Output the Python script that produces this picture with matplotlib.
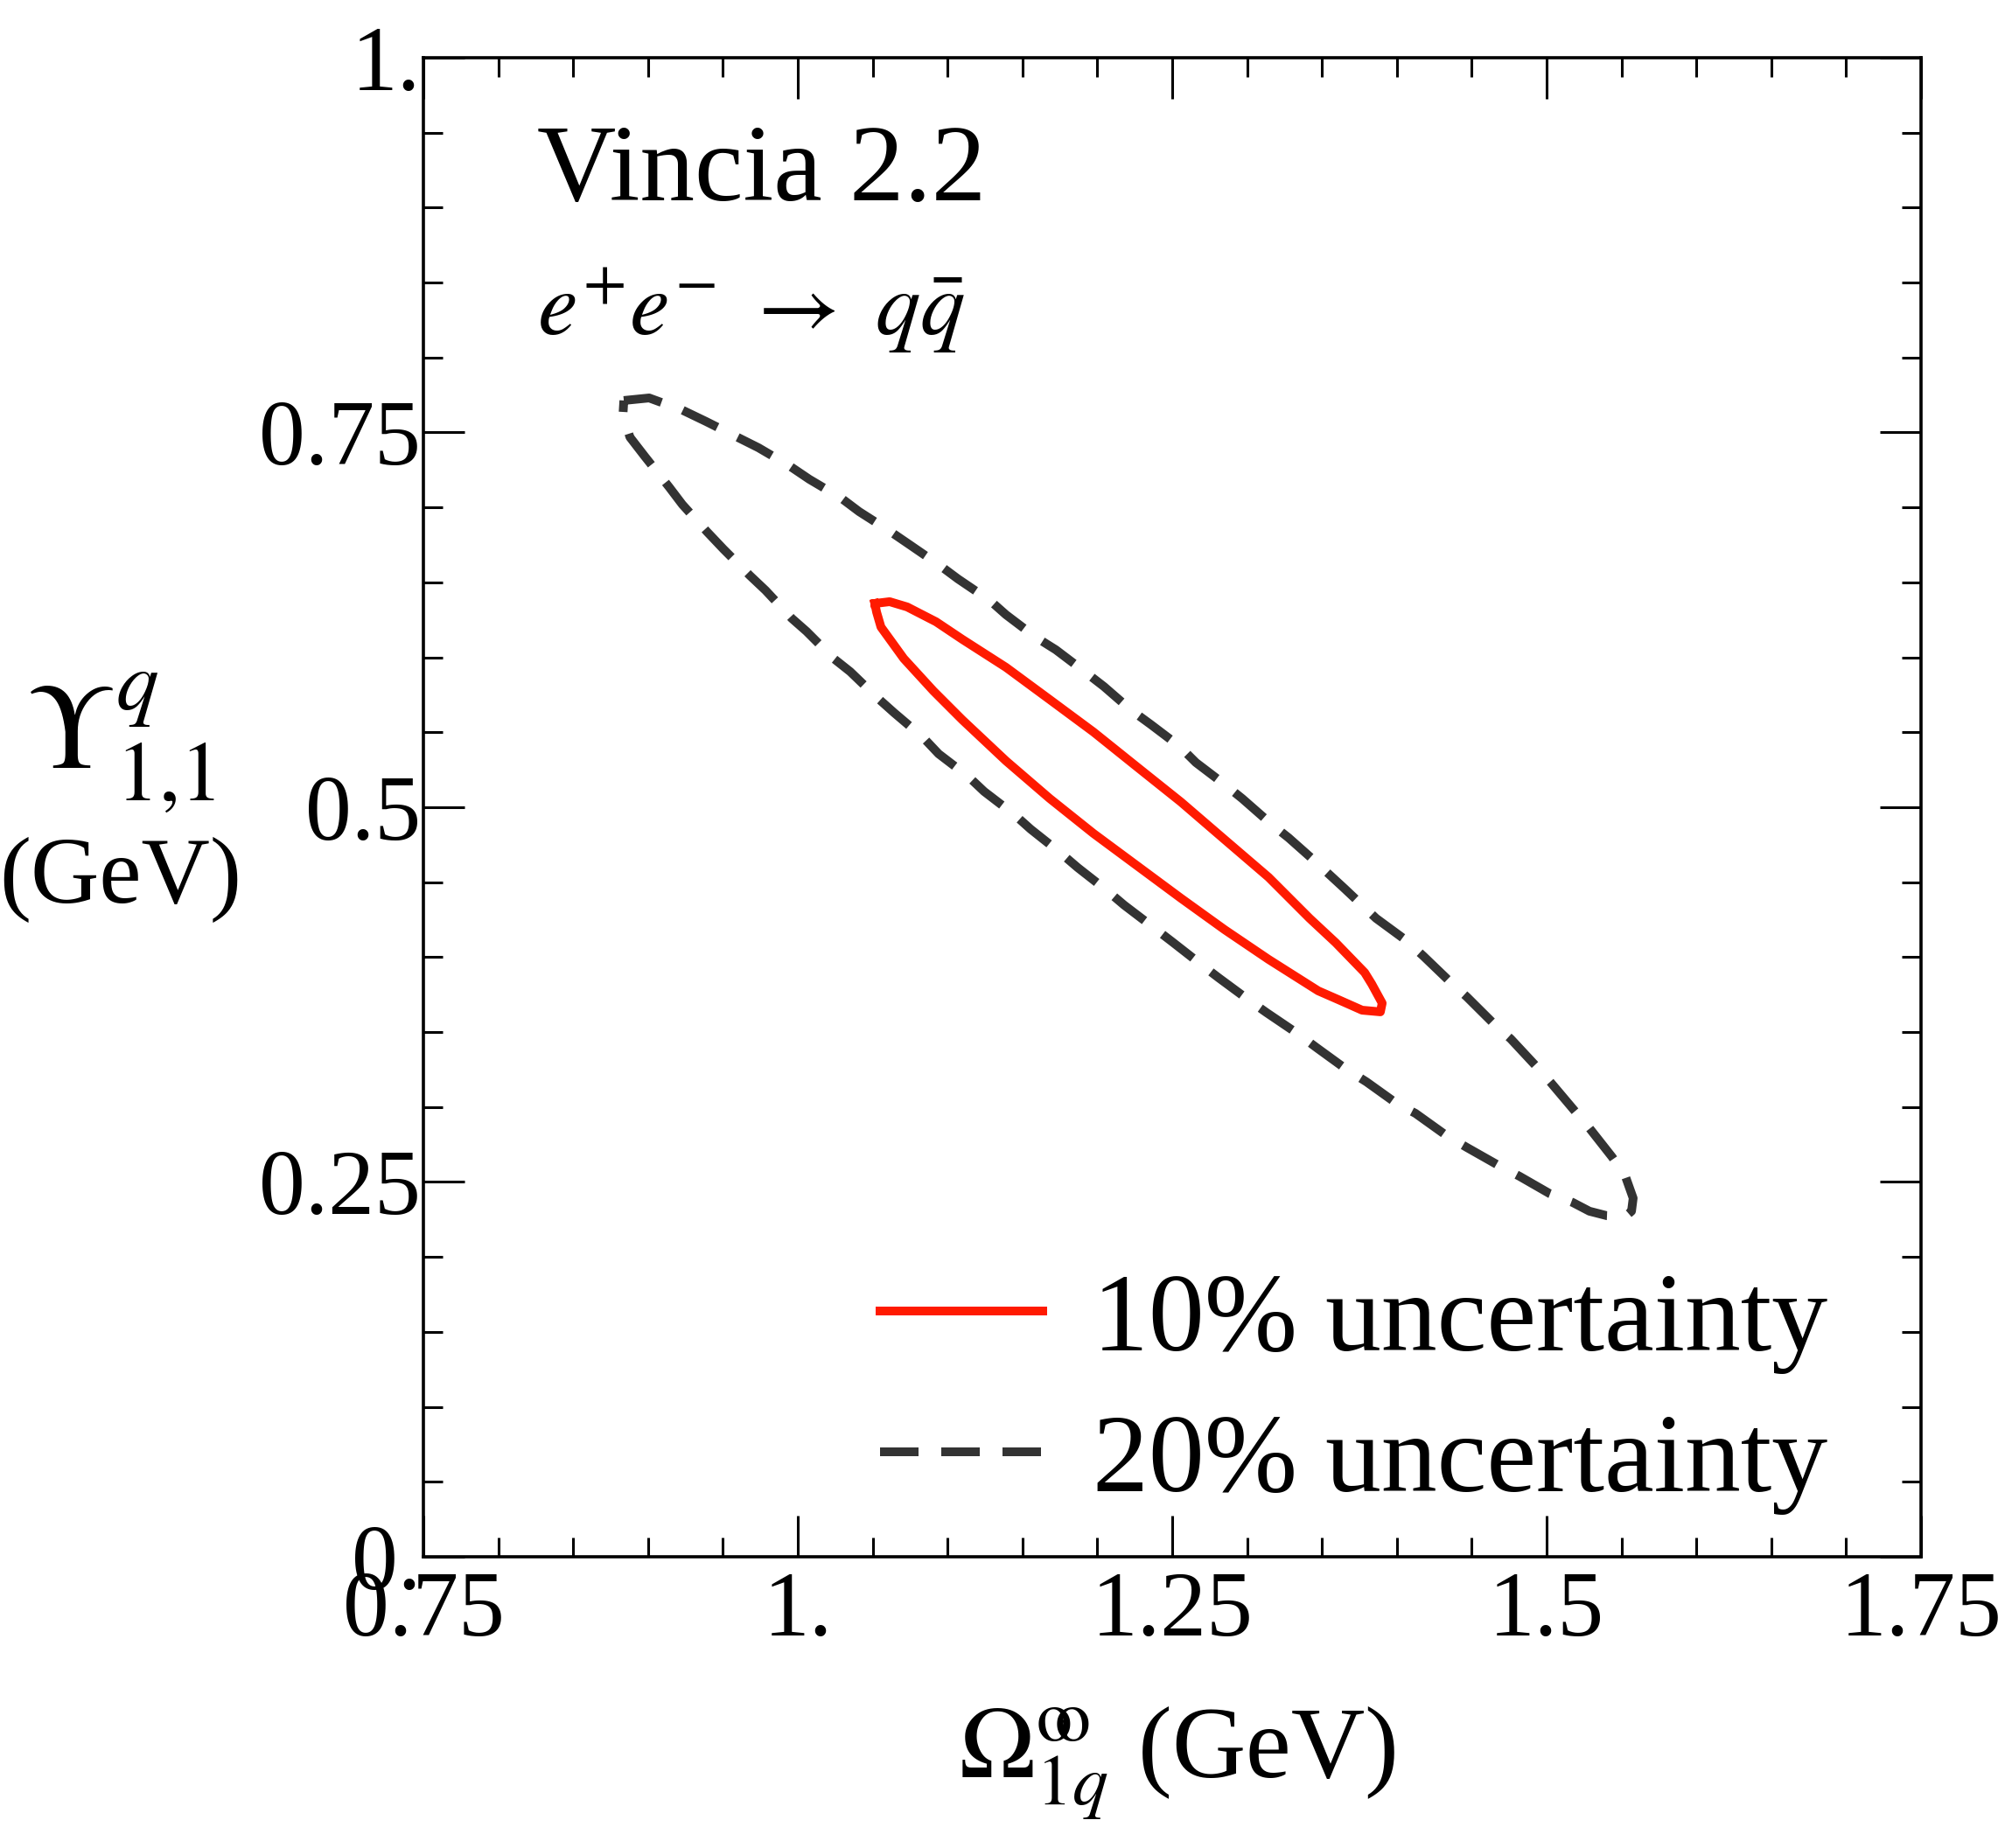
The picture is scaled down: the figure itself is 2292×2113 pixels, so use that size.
import numpy as np
import matplotlib
matplotlib.use('Agg')
import matplotlib.pyplot as plt
from matplotlib.ticker import MultipleLocator, FixedLocator, FixedFormatter

plt.rcParams['font.family'] = ['Liberation Serif', 'DejaVu Serif']
plt.rcParams['mathtext.fontset'] = 'stix'

# 20% uncertainty contour (dashed), traced clockwise from the upper-left tip
x20 = [0.8838, 0.9007, 0.9229, 0.9387, 0.9597, 0.9737, 0.9947, 1.0076, 1.0292, 1.0409,
       1.0619, 1.0748, 1.0952, 1.1069, 1.1285, 1.1390, 1.1583, 1.1723, 1.1916, 1.2044,
       1.2225, 1.2354, 1.2547, 1.2658, 1.2850, 1.2967, 1.3160, 1.3277, 1.3435, 1.3651,
       1.3861, 1.4060, 1.4176, 1.4352, 1.4468, 1.4644, 1.4761, 1.4924, 1.5029, 1.5187,
       1.5286, 1.5438, 1.5526, 1.5578, 1.5567, 1.5526, 1.5403, 1.5286, 1.5175, 1.5023,
       1.4819, 1.4673, 1.4468, 1.4328, 1.4124, 1.4001, 1.3797, 1.3657, 1.3464, 1.3347,
       1.3131, 1.3008, 1.2810, 1.2687, 1.2500, 1.2371, 1.2179, 1.2062, 1.1869, 1.1752,
       1.1554, 1.1449, 1.1244, 1.1139, 1.0940, 1.0835, 1.0643, 1.0532, 1.0350, 1.0239,
       1.0058, 0.9959, 0.9784, 0.9679, 0.9504, 0.9393, 0.9229, 0.9141, 0.8978, 0.8879,
       0.8832, 0.8838]
y20 = [0.7713, 0.7730, 0.7649, 0.7573, 0.7468, 0.7398, 0.7275, 0.7188, 0.7060, 0.6972,
       0.6838, 0.6750, 0.6610, 0.6523, 0.6377, 0.6284, 0.6138, 0.6050, 0.5904, 0.5805,
       0.5648, 0.5554, 0.5408, 0.5298, 0.5152, 0.5058, 0.4889, 0.4796, 0.4656, 0.4457,
       0.4259, 0.4113, 0.4008, 0.3839, 0.3734, 0.3559, 0.3454, 0.3279, 0.3162, 0.2975,
       0.2859, 0.2666, 0.2538, 0.2392, 0.2305, 0.2270, 0.2275, 0.2305, 0.2363, 0.2421,
       0.2538, 0.2614, 0.2730, 0.2812, 0.2958, 0.3022, 0.3168, 0.3256, 0.3396, 0.3483,
       0.3629, 0.3716, 0.3862, 0.3956, 0.4102, 0.4201, 0.4347, 0.4446, 0.4597, 0.4697,
       0.4854, 0.4948, 0.5105, 0.5204, 0.5356, 0.5467, 0.5630, 0.5729, 0.5904, 0.5992,
       0.6173, 0.6260, 0.6447, 0.6546, 0.6721, 0.6838, 0.7019, 0.7135, 0.7340, 0.7468,
       0.7614, 0.7713]

# 10% uncertainty contour (solid red)
x10 = [1.0514, 1.0613, 1.0730, 1.0923, 1.1098, 1.1390, 1.1682, 1.1974, 1.2266, 1.2558,
       1.2850, 1.3143, 1.3417, 1.3592, 1.3785, 1.3832, 1.3902, 1.3890, 1.3768, 1.3610,
       1.3475, 1.3143, 1.2850, 1.2558, 1.2266, 1.1974, 1.1682, 1.1390, 1.1098, 1.0905,
       1.0707, 1.0555, 1.0526, 1.0514]
y10 = [0.6359, 0.6371, 0.6336, 0.6237, 0.6120, 0.5933, 0.5718, 0.5502, 0.5268, 0.5035,
       0.4784, 0.4533, 0.4259, 0.4096, 0.3897, 0.3821, 0.3693, 0.3635, 0.3646, 0.3716,
       0.3775, 0.3985, 0.4183, 0.4393, 0.4609, 0.4825, 0.5058, 0.5309, 0.5583, 0.5776,
       0.5992, 0.6202, 0.6301, 0.6359]

xticks = [0.75, 1.0, 1.25, 1.5, 1.75]
xticklabels = ['0.75', '1.', '1.25', '1.5', '1.75']
yticks = [0.0, 0.25, 0.5, 0.75, 1.0]
yticklabels = ['0.', '0.25', '0.5', '0.75', '1.']

fig = plt.figure(figsize=(11.46, 10.565), dpi=200)
ax = fig.add_axes([0.2112, 0.1576, 0.7469, 0.8112])

ax.plot(x10, y10, color='#ff1a00', lw=3.6, label='10% uncertainty')
ax.plot(x20, y20, color='#333333', lw=3.6, linestyle=(0, (4.4, 2.6)), label='20% uncertainty')

ax.set_xlim(0.75, 1.75)
ax.set_ylim(0.0, 1.0)
ax.xaxis.set_major_locator(FixedLocator(xticks))
ax.xaxis.set_major_formatter(FixedFormatter(xticklabels))
ax.yaxis.set_major_locator(FixedLocator(yticks))
ax.yaxis.set_major_formatter(FixedFormatter(yticklabels))
ax.xaxis.set_minor_locator(MultipleLocator(0.05))
ax.yaxis.set_minor_locator(MultipleLocator(0.05))
ax.tick_params(which='both', direction='in', top=True, right=True, width=1.1, color='black')
ax.tick_params(which='major', length=17, labelsize=38)
ax.tick_params(which='minor', length=8)
ax.tick_params(axis='x', pad=6)
ax.tick_params(axis='y', pad=1)
for s in ax.spines.values():
    s.set_linewidth(1.3)

ax.text(0.076, 0.905, 'Vincia 2.2', transform=ax.transAxes, fontsize=45)
ax.text(0.076, 0.815, r'$e^{+}e^{-}\ \rightarrow\ q\bar{q}$', transform=ax.transAxes, fontsize=37)

fig.text(0.060, 0.598, r'$\Upsilon_{1{,}1}^{q}$', fontsize=50, ha='center', va='center')
fig.text(0.060, 0.524, '(GeV)', fontsize=39, ha='center', va='center')
fig.text(0.587, 0.046, r'$\Omega_{1q}^{\mathrm{o}\!\!\mathrm{o}}$ (GeV)', fontsize=42, ha='center', va='center')

ax.legend(loc='lower right', bbox_to_anchor=(0.99, -0.024), frameon=False, fontsize=46,
          handlelength=1.45, handletextpad=0.45, labelspacing=0.35, borderaxespad=0.3)

fig.savefig('out.png', dpi=200)
